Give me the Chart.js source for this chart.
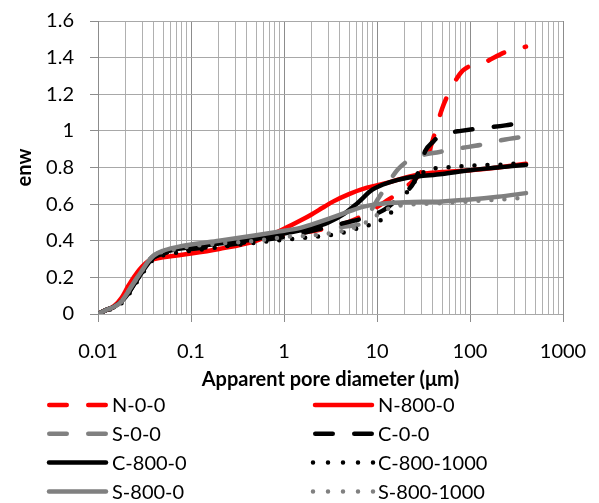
<!DOCTYPE html>
<html>
<head>
<meta charset="utf-8">
<script src="https://cdn.jsdelivr.net/npm/chart.js@4.4.0/dist/chart.umd.min.js"></script>
<style>
html, body { margin: 0; padding: 0; background: #fff; }
</style>
</head>
<body>
<canvas id="chart" width="599" height="503"></canvas>
<script>
// series names, in legend order
const seriesNames = ['N-0-0', 'N-800-0', 'S-0-0', 'C-0-0', 'C-800-0', 'C-800-1000', 'S-800-0', 'S-800-1000'];

// pore diameter (um) and enw
const n00X = [0.01, 0.012, 0.015, 0.018, 0.021, 0.025, 0.03, 0.035, 0.04, 0.05, 0.07, 0.1, 0.2, 0.5, 1, 3, 6, 12, 20, 31, 36, 42, 50, 64, 84, 145, 240, 400];
const n00Y = [0, 0.02, 0.04, 0.075, 0.12, 0.18, 0.24, 0.28, 0.31, 0.33, 0.345, 0.355, 0.375, 0.405, 0.43, 0.47, 0.52, 0.61, 0.69, 0.79, 0.88, 0.99, 1.12, 1.24, 1.33, 1.375, 1.43, 1.46];

const n8X = [0.01, 0.012, 0.015, 0.018, 0.021, 0.025, 0.03, 0.035, 0.04, 0.05, 0.07, 0.1, 0.2, 0.5, 1, 1.5, 2, 2.6, 3.4, 5, 7.8, 13.8, 20, 30, 50, 100, 200, 400];
const n8Y = [0, 0.02, 0.045, 0.09, 0.15, 0.21, 0.26, 0.29, 0.30, 0.31, 0.32, 0.33, 0.355, 0.40, 0.465, 0.51, 0.545, 0.58, 0.615, 0.655, 0.69, 0.72, 0.745, 0.765, 0.775, 0.785, 0.80, 0.82];

const s00X = [0.01, 0.012, 0.015, 0.018, 0.021, 0.025, 0.03, 0.035, 0.04, 0.05, 0.07, 0.1, 0.2, 0.5, 1, 3, 5, 7, 10, 13, 16.8, 22, 27, 47, 78, 135, 223, 400];
const s00Y = [0, 0.02, 0.04, 0.07, 0.12, 0.18, 0.24, 0.29, 0.32, 0.34, 0.36, 0.37, 0.39, 0.42, 0.44, 0.47, 0.48, 0.50, 0.62, 0.71, 0.79, 0.84, 0.86, 0.885, 0.905, 0.925, 0.95, 0.97];

const c00X = [0.01, 0.012, 0.015, 0.018, 0.021, 0.025, 0.03, 0.035, 0.04, 0.05, 0.07, 0.1, 0.2, 0.5, 1, 3, 5, 8, 12, 16, 20, 25, 29, 33, 40, 45, 60, 80, 135, 240, 400];
const c00Y = [0, 0.02, 0.04, 0.07, 0.11, 0.17, 0.23, 0.28, 0.31, 0.33, 0.345, 0.355, 0.37, 0.40, 0.42, 0.476, 0.503, 0.53, 0.57, 0.62, 0.66, 0.72, 0.80, 0.89, 0.94, 0.965, 0.99, 1.0, 1.015, 1.03, 1.05];

const c8X = [0.01, 0.012, 0.015, 0.018, 0.021, 0.025, 0.03, 0.035, 0.04, 0.05, 0.07, 0.1, 0.2, 0.5, 1, 2, 3, 4.5, 6, 9, 13.8, 22, 50, 100, 200, 400];
const c8Y = [0, 0.02, 0.04, 0.07, 0.11, 0.17, 0.23, 0.28, 0.31, 0.335, 0.355, 0.365, 0.385, 0.41, 0.44, 0.47, 0.50, 0.55, 0.60, 0.68, 0.72, 0.745, 0.765, 0.785, 0.80, 0.815];

const c81X = [0.01, 0.012, 0.015, 0.018, 0.021, 0.025, 0.03, 0.035, 0.04, 0.05, 0.07, 0.1, 0.2, 0.5, 1, 2, 3, 4, 5.5, 7.5, 10, 13, 17, 20, 24, 29, 37, 56, 100, 200, 400];
const c81Y = [0, 0.015, 0.035, 0.06, 0.10, 0.16, 0.22, 0.27, 0.30, 0.32, 0.335, 0.345, 0.365, 0.39, 0.405, 0.42, 0.43, 0.44, 0.46, 0.48, 0.50, 0.54, 0.59, 0.65, 0.705, 0.76, 0.79, 0.80, 0.81, 0.815, 0.825];

const s8X = [0.01, 0.012, 0.015, 0.018, 0.021, 0.025, 0.03, 0.035, 0.04, 0.05, 0.07, 0.1, 0.2, 0.5, 1, 1.5, 2, 3, 5, 7, 10, 20, 50, 100, 200, 400];
const s8Y = [0, 0.02, 0.04, 0.07, 0.12, 0.18, 0.24, 0.29, 0.32, 0.345, 0.365, 0.38, 0.40, 0.43, 0.455, 0.47, 0.49, 0.52, 0.56, 0.585, 0.60, 0.61, 0.615, 0.625, 0.64, 0.66];

const s81X = [0.01, 0.012, 0.015, 0.018, 0.021, 0.025, 0.03, 0.035, 0.04, 0.05, 0.07, 0.1, 0.2, 0.5, 1, 2, 4, 7, 10, 14, 20, 50, 100, 200, 400];
const s81Y = [0, 0.02, 0.04, 0.07, 0.12, 0.18, 0.24, 0.29, 0.32, 0.34, 0.355, 0.37, 0.385, 0.40, 0.42, 0.43, 0.45, 0.49, 0.54, 0.58, 0.595, 0.605, 0.615, 0.625, 0.635];

const xTickLabels = ['0.01', '0.1', '1', '10', '100', '1000'];
const yTickLabels = ['0', '0.2', '0.4', '0.6', '0.8', '1', '1.2', '1.4', '1.6'];

const RED = '#ff0000', GRAY = '#808080', BLACK = '#000000';
const DASH = [17.5, 21.5], DOT = [0, 13];

function pts(xs, ys) {
  return xs.map((x, i) => ({ x: x, y: ys[i] }));
}

const seriesData = [pts(n00X, n00Y), pts(n8X, n8Y), pts(s00X, s00Y), pts(c00X, c00Y),
                    pts(c8X, c8Y), pts(c81X, c81Y), pts(s8X, s8Y), pts(s81X, s81Y)];
const seriesColor = [RED, RED, GRAY, BLACK, BLACK, BLACK, GRAY, GRAY];
const seriesKind = ['dash', 'solid', 'dash', 'dash', 'solid', 'dot', 'solid', 'dot'];

const datasets = seriesNames.map((name, i) => ({
  label: name,
  data: seriesData[i],
  borderColor: seriesColor[i],
  backgroundColor: seriesColor[i],
  borderWidth: 4.5,
  borderCapStyle: 'round',
  borderJoinStyle: 'round',
  borderDash: seriesKind[i] === 'dash' ? DASH : (seriesKind[i] === 'dot' ? DOT : []),
  pointRadius: 0,
  fill: false,
  cubicInterpolationMode: 'monotone',
  order: seriesNames.length - i   // first series underneath, like the original
}));

// two-column legend under the axis title
const columnLegend = {
  id: 'columnLegend',
  afterDraw(chart) {
    const ctx = chart.ctx;
    chart.data.datasets.forEach((ds, i) => {
      const col = i % 2, row = Math.floor(i / 2);
      const x0 = 47 + col * 266;
      const x1 = x0 + 61;
      const y = 405 + row * 28.8;
      const kind = seriesKind[i];
      ctx.save();
      ctx.strokeStyle = ds.borderColor;
      ctx.lineWidth = 4.5;
      ctx.lineCap = 'round';
      ctx.beginPath();
      if (kind === 'dash') {
        ctx.setLineDash(DASH);
        ctx.moveTo(x0 + 2.25, y);
        ctx.lineTo(x1 - 2.25, y);
      } else if (kind === 'dot') {
        ctx.setLineDash([0, 15]);
        ctx.moveTo(x0, y);
        ctx.lineTo(x1, y);
      } else {
        ctx.moveTo(x0 + 2, y);
        ctx.lineTo(x1 - 2, y);
      }
      ctx.stroke();
      ctx.restore();
      ctx.save();
      ctx.fillStyle = '#000';
      ctx.font = '20px Lato';
      ctx.textBaseline = 'middle';
      ctx.fillText(ds.label, x1 + 4, y + 1);
      ctx.restore();
    });
  }
};

function gridColor(ctx) {
  return ctx.tick && ctx.tick.major ? '#8c8c8c' : '#b0b0b0';
}

new Chart(document.getElementById('chart'), {
  type: 'line',
  data: { datasets: datasets },
  plugins: [columnLegend],
  options: {
    responsive: false,
    animation: false,
    layout: { padding: { left: 0, right: 36, top: 21, bottom: 111 } },
    plugins: { legend: { display: false }, tooltip: { enabled: false } },
    scales: {
      x: {
        type: 'logarithmic',
        min: 0.01,
        max: 1000,
        afterFit(scale) {
          scale.height = 78;
          scale.paddingLeft = 0;
          scale.paddingRight = 0;
        },
        afterBuildTicks(scale) {
          const ticks = [];
          for (let e = -2; e <= 2; e++) {
            for (let m = 1; m <= 9; m++) {
              ticks.push({ value: Number((m * Math.pow(10, e)).toPrecision(6)), major: m === 1 });
            }
          }
          ticks.push({ value: 1000, major: true });
          scale.ticks = ticks;
        },
        grid: {
          color: gridColor,
          lineWidth: 1,
          tickLength: 8,
          tickColor: ctx => (ctx.tick && ctx.tick.major ? '#8c8c8c' : 'rgba(0,0,0,0)')
        },
        border: { display: false },
        ticks: {
          autoSkip: false,
          maxRotation: 0,
          padding: 18,
          color: '#000',
          font: { family: 'Lato', size: 20 },
          callback(value) {
            const e = Math.round(Math.log10(value));
            if (Math.abs(value - Math.pow(10, e)) < 1e-9 * Math.pow(10, e)) {
              return xTickLabels[e + 2];
            }
            return '';
          }
        },
        title: {
          display: true,
          text: 'Apparent pore diameter (μm)',
          color: '#000',
          font: { family: 'Lato', size: 20, weight: 'bold' },
          padding: { top: 0, bottom: 0 }
        }
      },
      y: {
        type: 'linear',
        min: 0,
        max: 1.6,
        afterFit(scale) {
          scale.width = 98;
          scale.paddingTop = 0;
          scale.paddingBottom = 0;
        },
        grid: { color: '#a8a8a8', lineWidth: 1, tickLength: 8, tickColor: '#8c8c8c' },
        border: { display: true, color: '#8c8c8c', width: 1 },
        ticks: {
          stepSize: 0.2,
          padding: 16,
          color: '#000',
          font: { family: 'Lato', size: 20 },
          callback(value, index) { return yTickLabels[index]; }
        },
        title: {
          display: true,
          text: 'enw',
          color: '#000',
          font: { family: 'Lato', size: 20, weight: 'bold' },
          padding: { top: 13, bottom: 0 }
        }
      }
    }
  }
});
</script>
</body>
</html>
